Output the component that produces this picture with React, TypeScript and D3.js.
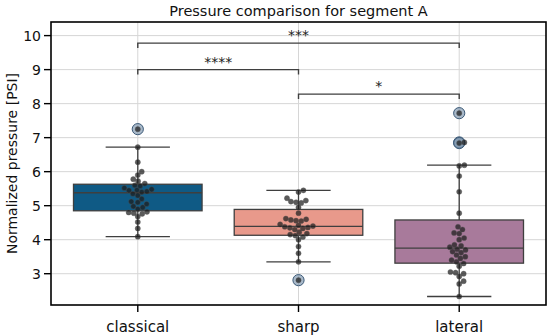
import React from "react";
import * as d3 from "d3";

const categories = ["classical", "sharp", "lateral"];
const boxColors = ["#0f5a85", "#e8998b", "#a87a9b"];

// box statistics: [whiskerLow, q1, median, q3, whiskerHigh]
const boxStats = [
  [4.09, 4.85, 5.38, 5.63, 6.72],
  [3.35, 4.13, 4.39, 4.89, 5.45],
  [2.33, 3.31, 3.75, 4.58, 6.19],
];

const classicalValues = [7.25, 6.72, 6.28, 6.0, 5.9, 5.78, 5.72, 5.65, 5.6, 5.58, 5.52, 5.48, 5.46, 5.45, 5.42, 5.4, 5.35, 5.3, 5.2, 5.12, 5.1, 5.05, 4.98, 4.95, 4.9, 4.82, 4.8, 4.78, 4.76, 4.68, 4.52, 4.33, 4.09];
const sharpValues = [5.45, 5.4, 5.22, 5.15, 5.12, 5.1, 5.08, 4.95, 4.78, 4.62, 4.6, 4.58, 4.56, 4.55, 4.45, 4.42, 4.4, 4.38, 4.36, 4.35, 4.33, 4.3, 4.22, 4.18, 4.15, 4.12, 4.08, 4.0, 3.8, 3.6, 3.35, 2.81];
const lateralValues = [7.72, 6.86, 6.84, 6.19, 6.17, 5.87, 5.41, 4.78, 4.38, 4.3, 4.2, 4.18, 4.05, 4.0, 3.85, 3.82, 3.78, 3.72, 3.7, 3.65, 3.62, 3.55, 3.5, 3.45, 3.4, 3.35, 3.3, 3.22, 3.05, 3.03, 3.0, 2.92, 2.78, 2.7, 2.33];
const groupValues = [classicalValues, sharpValues, lateralValues];

const yTicks = [3, 4, 5, 6, 7, 8, 9, 10];

// significance annotations: [from, to, level, label]
const annotPairs = [
  ["classical", "lateral", 9.78, "***"],
  ["classical", "sharp", 9.0, "****"],
  ["sharp", "lateral", 8.28, "*"],
] as const;

const W = 550, H = 336;
const L = 51, R = 546, T = 22, B = 305;

function swarm(vals: number[], y: (v: number) => number, r: number) {
  const pts = vals.map((v) => ({ v, py: y(v), dx: 0 })).sort((a, b) => a.v - b.v);
  const placed: { py: number; dx: number }[] = [];
  const d = 2 * r;
  for (const p of pts) {
    const near = placed.filter((q) => Math.abs(q.py - p.py) < d);
    const cands = [0];
    for (const q of near) {
      const off = Math.sqrt(d * d - (q.py - p.py) ** 2);
      cands.push(q.dx + off, q.dx - off);
    }
    cands.sort((a, b) => Math.abs(a) - Math.abs(b));
    let chosen = 0;
    for (const c of cands) {
      const ok = near.every((q) => (q.dx - c) ** 2 + (q.py - p.py) ** 2 >= d * d - 0.01);
      if (ok) { chosen = c; break; }
    }
    p.dx = chosen;
    placed.push(p);
  }
  return pts;
}

export default function App() {
  const y = d3.scaleLinear().domain([2.08, 10.4]).range([B, T]);
  const x = d3.scalePoint<string>().domain(categories).range([L, R]).padding(0.54);
  const step = x.step();
  const bw = step * 0.8;
  const capW = bw * 0.5;
  const font = "DejaVu Sans, sans-serif";
  const r = 2.6;

  return (
    <svg width={W} height={H} style={{ position: "absolute", left: 0, top: 0 }}>
      <rect x={0} y={0} width={W} height={H} fill="#fff" />
      {yTicks.map((t) => (
        <line key={"g" + t} x1={L} x2={R} y1={y(t)} y2={y(t)} stroke="#d6d6d6" strokeWidth={1} />
      ))}
      {categories.map((c) => (
        <line key={"gv" + c} x1={x(c)} x2={x(c)} y1={T} y2={B} stroke="#d6d6d6" strokeWidth={1} />
      ))}
      {categories.map((c, i) => {
        const [wl, q1, med, q3, wh] = boxStats[i];
        const cx = x(c)!;
        return (
          <g key={"b" + c}>
            <line x1={cx} x2={cx} y1={y(q3)} y2={y(wh)} stroke="#3f3f3f" strokeWidth={1.3} />
            <line x1={cx} x2={cx} y1={y(q1)} y2={y(wl)} stroke="#3f3f3f" strokeWidth={1.3} />
            <line x1={cx - capW / 2} x2={cx + capW / 2} y1={y(wh)} y2={y(wh)} stroke="#3f3f3f" strokeWidth={1.3} />
            <line x1={cx - capW / 2} x2={cx + capW / 2} y1={y(wl)} y2={y(wl)} stroke="#3f3f3f" strokeWidth={1.3} />
            <rect x={cx - bw / 2} y={y(q3)} width={bw} height={y(q1) - y(q3)} fill={boxColors[i]} stroke="#3f3f3f" strokeWidth={1.3} />
            <line x1={cx - bw / 2} x2={cx + bw / 2} y1={y(med)} y2={y(med)} stroke="#3f3f3f" strokeWidth={1.3} />
            {groupValues[i].filter((v) => v > wh + 1e-6 || v < wl - 1e-6).map((v, k) => (
              <circle key={"f" + k} cx={cx} cy={y(v)} r={5.6} fill="#6f8ba5" fillOpacity={0.6} stroke="#3c5a78" strokeWidth={1} />
            ))}
          </g>
        );
      })}
      {categories.map((c, i) => {
        const cx = x(c)!;
        const pts = swarm(groupValues[i], y, r);
        return (
          <g key={"s" + c}>
            {pts.map((p, k) => (
              <circle key={k} cx={cx + p.dx} cy={p.py} r={r} fill="#1c1c1c" fillOpacity={0.72} stroke="#555" strokeOpacity={0.6} strokeWidth={0.6} />
            ))}
          </g>
        );
      })}
      {annotPairs.map(([a, b, lv, lab]) => {
        const x1 = x(a)!, x2 = x(b)!, yy = y(lv);
        return (
          <g key={a + b}>
            <path d={`M${x1},${yy + 5}V${yy}H${x2}V${yy + 5}`} fill="none" stroke="#3f3f3f" strokeWidth={1.4} />
            <text x={(x1 + x2) / 2} y={yy - 3} textAnchor="middle" fontFamily={font} fontSize={14} fill="#222">{lab}</text>
          </g>
        );
      })}
      <rect x={L} y={T} width={R - L} height={B - T} fill="none" stroke="#000" strokeWidth={1.6} />
      {yTicks.map((t) => (
        <g key={"yt" + t}>
          <line x1={L - 7} x2={L} y1={y(t)} y2={y(t)} stroke="#000" strokeWidth={1.4} />
          <text x={L - 10} y={y(t)} dy="0.36em" textAnchor="end" fontFamily={font} fontSize={14} fill="#111">{t}</text>
        </g>
      ))}
      {categories.map((c) => (
        <g key={"xt" + c}>
          <line x1={x(c)} x2={x(c)} y1={B} y2={B + 7} stroke="#000" strokeWidth={1.4} />
          <text x={x(c)} y={332} textAnchor="middle" fontFamily={font} fontSize={15} fill="#111">{c}</text>
        </g>
      ))}
      <text transform={`translate(17,${(T + B) / 2}) rotate(-90)`} textAnchor="middle" fontFamily={font} fontSize={14} fill="#111">Normalized pressure [PSI]</text>
      <text x={(L + R) / 2} y={16} textAnchor="middle" fontFamily={font} fontSize={14.5} fill="#111">Pressure comparison for segment A</text>
    </svg>
  );
}
